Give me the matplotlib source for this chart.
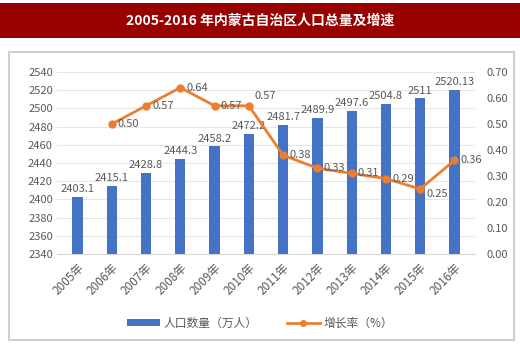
import matplotlib
matplotlib.use("Agg")
import matplotlib.pyplot as plt
from matplotlib.patches import Rectangle
from matplotlib.lines import Line2D

plt.rcParams['font.family'] = ['Noto Sans CJK SC', 'DejaVu Sans']

years = ['2005年', '2006年', '2007年', '2008年', '2009年', '2010年',
         '2011年', '2012年', '2013年', '2014年', '2015年', '2016年']
population = [2403.1, 2415.1, 2428.8, 2444.3, 2458.2, 2472.2,
              2481.7, 2489.9, 2497.6, 2504.8, 2511, 2520.13]
pop_labels = ['2403.1', '2415.1', '2428.8', '2444.3', '2458.2', '2472.2',
              '2481.7', '2489.9', '2497.6', '2504.8', '2511', '2520.13']
growth = [None, 0.50, 0.57, 0.64, 0.57, 0.57, 0.38, 0.33, 0.31, 0.29, 0.25, 0.36]

BAR_C = '#4472C4'
LINE_C = '#ED7D31'
TXT_C = '#595959'
FS = 8

fig = plt.figure(figsize=(5.2, 3.48), dpi=100)

# title band
fig.patches.append(Rectangle((0, 1 - 38 / 348), 1, 35 / 348, transform=fig.transFigure,
                             facecolor='#990000', edgecolor='none', zorder=-10))
fig.text(0.5, 1 - 21 / 348, '2005-2016 年内蒙古自治区人口总量及增速', color='white',
         ha='center', va='center', fontsize=10, fontweight='bold')

# white panel with soft border
fig.patches.append(Rectangle((9 / 520, 1 - 340 / 348), 505 / 520, 288 / 348,
                             transform=fig.transFigure, facecolor='white',
                             edgecolor='#cfcfcf', linewidth=1.5, zorder=-10))

ax = fig.add_axes([57 / 520, 1 - 254 / 348, 418 / 520, 182 / 348])
ax.patch.set_visible(False)
x = list(range(len(years)))
ax.bar(x, population, width=0.3, color=BAR_C, zorder=2)
ax.set_ylim(2340, 2540)
ax.set_yticks(range(2340, 2541, 20))
ax.set_xlim(-0.6, len(years) - 0.4)
ax.set_xticks(x)
ax.set_xticklabels(years, rotation=45, ha='right', rotation_mode='anchor')
ax.grid(axis='y', color='#e6e6e6', linewidth=0.8, zorder=0)
for s in ax.spines.values():
    s.set_visible(False)
ax.spines['bottom'].set_visible(True)
ax.spines['bottom'].set_color('#d9d9d9')
ax.tick_params(axis='both', length=0, labelsize=FS, colors=TXT_C, pad=3)
ax.tick_params(axis='x', labelsize=8.5, pad=5)
for xi, v, lab in zip(x, population, pop_labels):
    ax.text(xi, v + 3, lab, ha='center', va='bottom', fontsize=FS, color=TXT_C, zorder=3)

ax2 = ax.twinx()
ax2.patch.set_visible(False)
gx = [xi for xi, g in zip(x, growth) if g is not None]
gy = [g for g in growth if g is not None]
ax2.plot(gx, gy, color=LINE_C, linewidth=2, marker='o', markersize=5, zorder=4)
ax2.set_ylim(0, 0.70)
ax2.set_yticks([i / 10 for i in range(8)])
ax2.set_yticklabels(['%.2f' % (i / 10) for i in range(8)])
for s in ax2.spines.values():
    s.set_visible(False)
ax2.tick_params(axis='y', length=0, labelsize=FS, colors=TXT_C, pad=8)
for xi, g in zip(gx, gy):
    if xi == 5:
        ax2.text(xi + 0.15, g + 0.02, '%.2f' % g, ha='left', va='bottom', fontsize=FS,
                 color=TXT_C, zorder=5)
    elif xi == 10:
        ax2.text(xi + 0.18, g - 0.02, '%.2f' % g, ha='left', va='center', fontsize=FS,
                 color=TXT_C, zorder=5)
    else:
        ax2.text(xi + 0.18, g, '%.2f' % g, ha='left', va='center', fontsize=FS,
                 color=TXT_C, zorder=5)

handles = [Rectangle((0, 0), 1, 1, facecolor=BAR_C, edgecolor='none'),
           Line2D([0], [0], color=LINE_C, linewidth=2, marker='o', markersize=4)]
fig.legend(handles, ['人口数量（万人）', '增长率（%）'], loc='center',
           bbox_to_anchor=(0.5, 1 - 323 / 348), ncol=2, frameon=False,
           fontsize=8.5, labelcolor=TXT_C, handlelength=2.8, handleheight=0.5,
           columnspacing=2.5, handletextpad=0.3)

fig.savefig('out.png', dpi=100)
